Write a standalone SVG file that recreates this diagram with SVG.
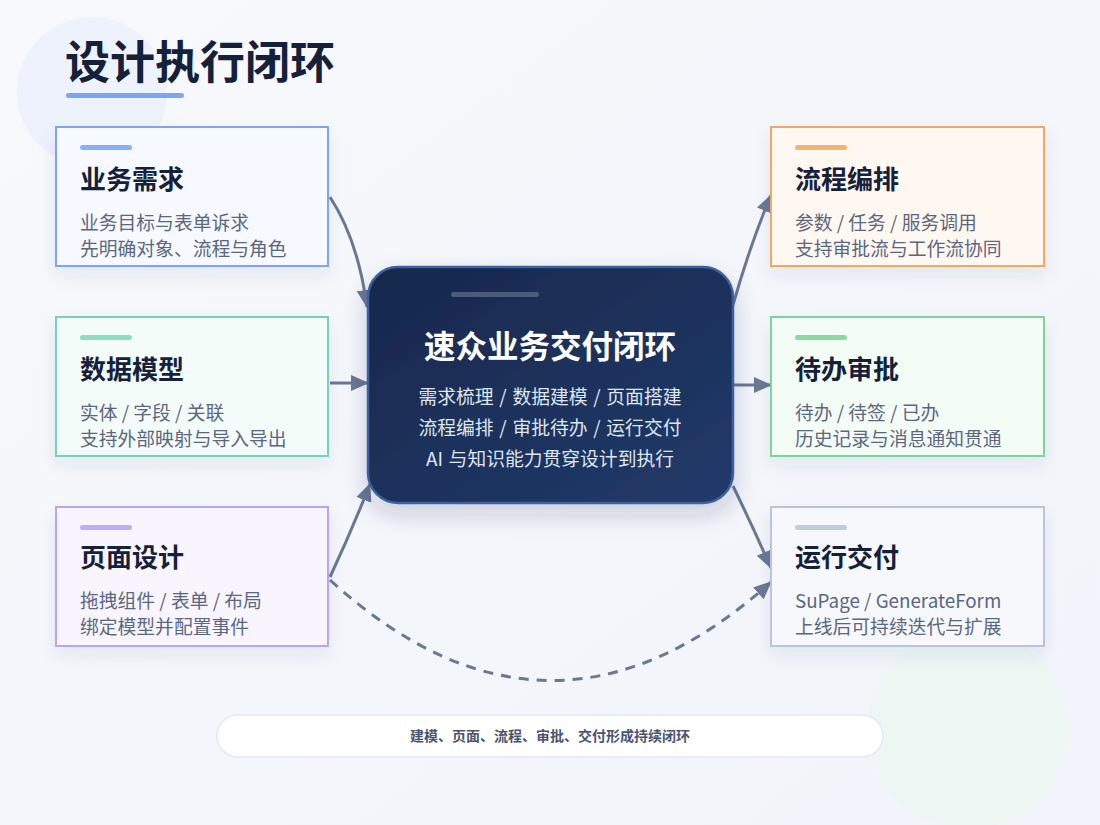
<svg xmlns="http://www.w3.org/2000/svg" width="1100" height="825" viewBox="0 0 1100 825">
<defs>
<linearGradient id="bg" x1="0" y1="0" x2="1" y2="1">
<stop offset="0" stop-color="#f7f9fc"/><stop offset="1" stop-color="#f1f4fa"/>
</linearGradient>
<linearGradient id="core" x1="0" y1="0" x2="1" y2="1">
<stop offset="0" stop-color="#17284c"/><stop offset="1" stop-color="#223a6a"/>
</linearGradient>
<filter id="sh" x="-20%" y="-20%" width="140%" height="150%">
<feDropShadow dx="0" dy="8" stdDeviation="9" flood-color="#1e2d50" flood-opacity="0.08"/>
</filter>
<filter id="sh2" x="-20%" y="-20%" width="140%" height="150%">
<feDropShadow dx="0" dy="10" stdDeviation="12" flood-color="#1e2d50" flood-opacity="0.2"/>
</filter>
<marker id="ah" markerUnits="userSpaceOnUse" markerWidth="20" markerHeight="18" refX="17" refY="8" orient="auto">
<path d="M0,0 L18,8 L0,16 Z" fill="#6b7893"/>
</marker>
<style>
.card{stroke-width:2;filter:url(#sh)}
.ct{font-family:"Noto Sans CJK SC","Noto Sans",sans-serif;font-size:26px;font-weight:700;fill:#15213b}
.cs{font-family:"Noto Sans CJK SC","Noto Sans",sans-serif;font-size:18.8px;fill:#5b6780}
.conn{fill:none;stroke:#6b7893;stroke-width:3;marker-end:url(#ah)}
</style>
</defs>
<rect width="1100" height="825" fill="url(#bg)"/>
<circle cx="92" cy="92" r="75" fill="#edf2fc"/>
<circle cx="968" cy="729" r="100" fill="#eef6f4"/>

<g id="title">
<text x="65" y="79" font-family="Noto Sans CJK SC, sans-serif" font-size="45" font-weight="700" fill="#15213b">设计执行闭环</text>
<rect x="66" y="93" width="118" height="5" rx="2.5" fill="#7ba7f0"/>
</g>

<g id="connectors">
<path class="conn" d="M330,197 Q358,240 367,307"/>
<path class="conn" d="M330,383 L368,383"/>
<path class="conn" d="M330,577 Q352,530 370,484"/>
<path class="conn" d="M733,305 Q750,245 771,195"/>
<path class="conn" d="M733,385 L771,385"/>
<path class="conn" d="M733,486 Q752,525 771,568"/>
<path class="conn" d="M330,580 Q550,780 771,582" stroke-dasharray="10,8"/>
</g>

<g id="n-req">
<rect class="card" x="56" y="127" width="272" height="139" fill="#f6f9ff" stroke="#7ba7f0"/>
<rect x="80" y="145" width="52" height="5" rx="2.5" fill="#8ab0f2"/>
<text class="ct" x="80" y="189">业务需求</text>
<text class="cs" x="80" y="230">业务目标与表单诉求</text>
<text class="cs" x="80" y="256">先明确对象、流程与角色</text>
</g>
<g id="n-data">
<rect class="card" x="56" y="317" width="272" height="139" fill="#f3fcf9" stroke="#79d0b9"/>
<rect x="80" y="335" width="52" height="5" rx="2.5" fill="#8fdcc5"/>
<text class="ct" x="80" y="379">数据模型</text>
<text class="cs" x="80" y="420">实体 / 字段 / 关联</text>
<text class="cs" x="80" y="446">支持外部映射与导入导出</text>
</g>
<g id="n-page">
<rect class="card" x="56" y="507" width="272" height="139" fill="#f8f5ff" stroke="#b9a4f6"/>
<rect x="80" y="525" width="52" height="5" rx="2.5" fill="#c0adf7"/>
<text class="ct" x="80" y="567">页面设计</text>
<text class="cs" x="80" y="608">拖拽组件 / 表单 / 布局</text>
<text class="cs" x="80" y="634">绑定模型并配置事件</text>
</g>

<g id="n-flow">
<rect class="card" x="771" y="127" width="273" height="139" fill="#fff8f1" stroke="#f0a95e"/>
<rect x="795" y="145" width="52" height="5" rx="2.5" fill="#f3b374"/>
<text class="ct" x="795" y="189">流程编排</text>
<text class="cs" x="795" y="230">参数 / 任务 / 服务调用</text>
<text class="cs" x="795" y="256">支持审批流与工作流协同</text>
</g>
<g id="n-todo">
<rect class="card" x="771" y="317" width="273" height="139" fill="#f4fcf6" stroke="#7fd39a"/>
<rect x="795" y="335" width="52" height="5" rx="2.5" fill="#88d9a2"/>
<text class="ct" x="795" y="379">待办审批</text>
<text class="cs" x="795" y="420">待办 / 待签 / 已办</text>
<text class="cs" x="795" y="446">历史记录与消息通知贯通</text>
</g>
<g id="n-run">
<rect class="card" x="771" y="507" width="273" height="139" fill="#f6f8fc" stroke="#b7c4da"/>
<rect x="795" y="525" width="52" height="5" rx="2.5" fill="#c0cadb"/>
<text class="ct" x="795" y="567">运行交付</text>
<text class="cs" x="795" y="608" font-size="18">SuPage / GenerateForm</text>
<text class="cs" x="795" y="634">上线后可持续迭代与扩展</text>
</g>

<g id="n-core">
<rect x="368" y="267" width="365" height="236" rx="30" fill="url(#core)" stroke="#3d619e" stroke-width="2.5" filter="url(#sh2)"/>
<rect x="451" y="292" width="88" height="5" rx="2.5" fill="#4b5b7c"/>
<text x="550" y="358" text-anchor="middle" font-family="Noto Sans CJK SC, sans-serif" font-size="31.5" font-weight="700" fill="#ffffff">速众业务交付闭环</text>
<g font-family="Noto Sans CJK SC, sans-serif" font-size="18.8" fill="#dfe6f2" text-anchor="middle" word-spacing="1.5">
<text x="550" y="404">需求梳理 / 数据建模 / 页面搭建</text>
<text x="550" y="435">流程编排 / 审批待办 / 运行交付</text>
<text x="550" y="466">AI 与知识能力贯穿设计到执行</text>
</g>
</g>

<g id="footer">
<rect x="217" y="715" width="666" height="42" rx="21" fill="#ffffff" stroke="#e3e8f2" stroke-width="1.5"/>
<text x="550" y="741" text-anchor="middle" font-family="Noto Sans CJK SC, sans-serif" font-size="14" font-weight="700" fill="#4a556c">建模、页面、流程、审批、交付形成持续闭环</text>
</g>
</svg>
